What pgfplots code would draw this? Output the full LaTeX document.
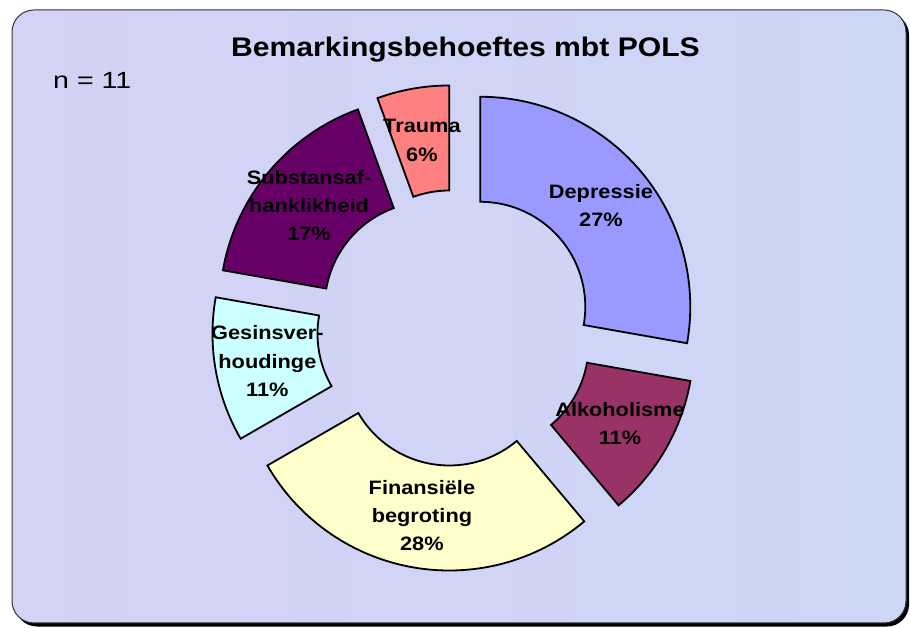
\documentclass[border=0pt]{standalone}
\usepackage{fontspec}
\setmainfont{Liberation Sans}
\usepackage{pgfplots}
\usepackage{pgfplotstable}
\pgfplotsset{compat=1.18}

\definecolor{bgcol}{RGB}{204,214,247}
\definecolor{bgcolB}{RGB}{212,210,245}
\definecolor{cDep}{HTML}{9999FF}
\definecolor{cAlk}{HTML}{993366}
\definecolor{cFin}{HTML}{FFFFCC}
\definecolor{cGes}{HTML}{CCFFFF}
\definecolor{cSub}{HTML}{660066}
\definecolor{cTra}{HTML}{FF8080}

% counts behind the percentages (clockwise from the top)
\pgfplotstableread[col sep=comma]{
name,count
Depressie,5
Alkoholisme,2
Finansiele,5
Gesinsverhoudinge,2
Substansafhanklikheid,3
Trauma,1
}\piedata

\pgfplotstablegetelem{0}{count}\of\piedata \let\vA\pgfplotsretval
\pgfplotstablegetelem{1}{count}\of\piedata \let\vB\pgfplotsretval
\pgfplotstablegetelem{2}{count}\of\piedata \let\vC\pgfplotsretval
\pgfplotstablegetelem{3}{count}\of\piedata \let\vD\pgfplotsretval
\pgfplotstablegetelem{4}{count}\of\piedata \let\vE\pgfplotsretval
\pgfplotstablegetelem{5}{count}\of\piedata \let\vF\pgfplotsretval
\pgfmathsetmacro\tot{\vA+\vB+\vC+\vD+\vE+\vF}
\pgfmathsetmacro\aA{90}
\pgfmathsetmacro\aB{\aA-360*\vA/\tot}
\pgfmathsetmacro\aC{\aB-360*\vB/\tot}
\pgfmathsetmacro\aD{\aC-360*\vC/\tot}
\pgfmathsetmacro\aE{\aD-360*\vD/\tot}
\pgfmathsetmacro\aF{\aE-360*\vE/\tot}
\pgfmathsetmacro\aG{\aF-360*\vF/\tot}

\newcommand\lbl{\fontsize{19.5}{28.5}\selectfont\bfseries}
% #1 start angle, #2 end angle, #3 colour, #4 label
\newcommand\seg[4]{%
  \draw[line width=1.8bp, line join=miter, fill=#3]
    (axis cs:{455+33*cos((#1+#2)/2)+210*cos(#1)},{300+33*sin((#1+#2)/2)+210*sin(#1)})
    arc[start angle=#1, end angle=#2, radius=210bp]
    -- (axis cs:{455+33*cos((#1+#2)/2)+105*cos(#2)},{300+33*sin((#1+#2)/2)+105*sin(#2)})
    arc[start angle=#2, end angle=#1, radius=105bp] -- cycle;
  \node[align=center, font=\lbl, xscale=1.12, inner sep=0pt]
    at (axis cs:{455+190.5*cos((#1+#2)/2)},{300+190.5*sin((#1+#2)/2)}) {#4};
}

\begin{document}
\begin{tikzpicture}
\useasboundingbox (0,0) rectangle (910bp,628bp);
\fill[black, rounded corners=22bp] (15bp,1.5bp) rectangle (909bp,615bp);
\shade[left color=bgcolB, right color=bgcol, rounded corners=22bp] (12bp,5bp) rectangle (906bp,618bp);
\draw[draw=black!80, line width=1bp, rounded corners=22bp] (12bp,5bp) rectangle (906bp,618bp);
\begin{axis}[
  at={(0,0)}, anchor=south west,
  width=910bp, height=628bp, scale only axis,
  xmin=0, xmax=910, ymin=0, ymax=628,
  hide axis, clip=false,
]
\seg{\aA}{\aB}{cDep}{Depressie\\27\%}
\seg{\aB}{\aC}{cAlk}{Alkoholisme\\11\%}
\seg{\aC}{\aD}{cFin}{Finansiële\\begroting\\28\%}
\seg{\aD}{\aE}{cGes}{Gesinsver-\\houdinge\\11\%}
\seg{\aE}{\aF}{cSub}{Substansaf-\\hanklikheid\\17\%}
\seg{\aF}{\aG}{cTra}{Trauma\\6\%}
\node[anchor=base, font=\fontsize{27}{32}\selectfont\bfseries, xscale=1.12, inner sep=0pt] at (axis cs:465.5,571) {Bemarkingsbehoeftes mbt POLS};
\node[anchor=base west, font=\fontsize{23.5}{28}\selectfont, xscale=1.22, inner sep=0pt] at (axis cs:53,539) {n = 11};
\end{axis}
\end{tikzpicture}
\end{document}
